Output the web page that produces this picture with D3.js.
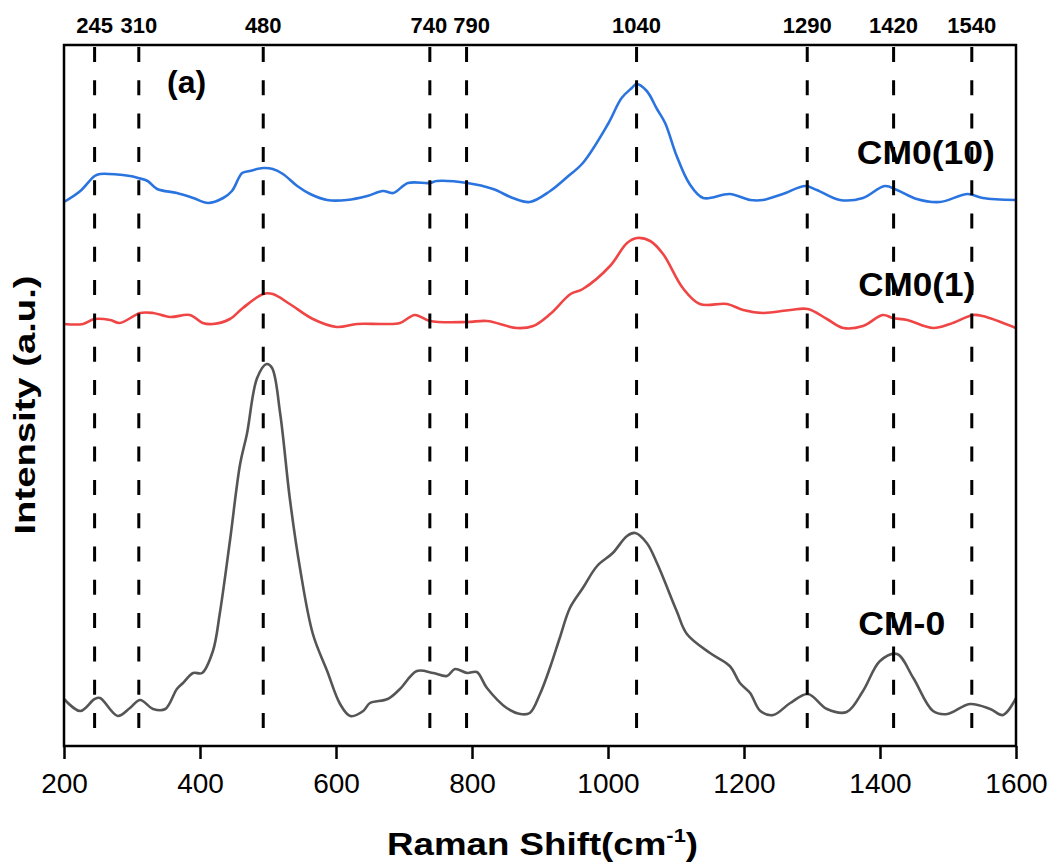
<!DOCTYPE html>
<html>
<head>
<meta charset="utf-8">
<script src="https://cdn.jsdelivr.net/npm/d3@7"></script>
<style>
  body { margin: 0; background: #fff; }
  text { font-family: "Liberation Sans", Arial, sans-serif; fill: #000; }
</style>
</head>
<body>
<div id="chart"></div>
<script>
const width = 1057;
const height = 866;
const margin = { top: 45, right: 41, bottom: 120, left: 64 };

// x tick values of the bottom axis
const xTicks = [200, 400, 600, 800, 1000, 1200, 1400, 1600];

// peak markers: where the dashed line sits, and what is written above it
const peakShift = [245, 310, 493, 738, 792, 1042, 1293, 1420, 1535];
const peakLabels = ["245", "310", "480", "740", "790", "1040", "1290", "1420", "1540"];

// CM0(10) spectrum (blue)
const cm10Shift = [200, 224, 245, 253, 297, 309, 323, 337, 366, 390, 412, 434, 447, 462, 473, 493, 507, 522, 543, 562, 587, 616, 646, 669, 684, 706, 738, 748, 793, 831, 860, 885, 915, 940, 963, 1000, 1020, 1035, 1042, 1057, 1072, 1084, 1101, 1120, 1140, 1179, 1209, 1228, 1257, 1290, 1307, 1341, 1375, 1407, 1425, 1454, 1488, 1529, 1551, 1600];
const cm10Int = [544, 555, 570, 572, 570, 568, 565, 557, 553, 548, 543, 548, 555, 573, 575, 578, 577, 572, 560, 552, 546, 546, 550, 555, 553, 563, 563, 565, 563, 557, 548, 544, 555, 569, 583, 622, 648, 658, 662, 655, 637, 623, 590, 562, 548, 552, 546, 546, 552, 560, 556, 546, 548, 560, 556, 547, 544, 552, 548, 546];

// CM0(1) spectrum (red)
const cm1Shift = [200, 228, 245, 268, 282, 312, 331, 356, 385, 404, 419, 444, 463, 493, 507, 532, 566, 601, 631, 669, 694, 716, 738, 793, 822, 866, 890, 915, 945, 963, 1003, 1028, 1043, 1062, 1081, 1110, 1135, 1175, 1199, 1228, 1268, 1294, 1322, 1346, 1375, 1404, 1419, 1440, 1478, 1503, 1537, 1551, 1600];
const cm1Int = [422, 422, 427, 426, 423, 433, 433, 429, 431, 423, 422, 427, 438, 452, 452, 442, 427, 419, 422, 422, 423, 431, 425, 424, 425, 418, 420, 432, 452, 457, 480, 503, 508, 505, 492, 458, 442, 442, 436, 433, 436, 437, 427, 418, 420, 431, 428, 426, 418, 422, 431, 430, 418];

// CM-0 spectrum (grey)
const cm0Shift = [200, 224, 245, 253, 279, 297, 312, 331, 349, 366, 375, 390, 403, 419, 429, 444, 459, 469, 484, 498, 506, 518, 532, 547, 566, 587, 606, 621, 640, 650, 676, 694, 719, 743, 763, 775, 793, 807, 822, 851, 871, 885, 900, 915, 929, 944, 963, 984, 1007, 1028, 1040, 1057, 1072, 1101, 1116, 1150, 1179, 1194, 1209, 1224, 1243, 1268, 1294, 1322, 1351, 1375, 1400, 1425, 1449, 1478, 1499, 1532, 1562, 1581, 1600];
const cm0Int = [47, 35, 47, 48, 30, 38, 46, 37, 37, 57, 63, 73, 73, 95, 132, 205, 282, 312, 368, 382, 378, 332, 248, 178, 112, 75, 42, 30, 35, 43, 47, 57, 75, 73, 70, 77, 73, 74, 58, 38, 32, 33, 52, 79, 108, 138, 158, 180, 193, 210, 213, 203, 183, 135, 112, 93, 80, 63, 53, 35, 31, 43, 52, 37, 34, 55, 85, 92, 68, 35, 32, 42, 37, 31, 48];

const series = [
  { name: "CM-0", shift: cm0Shift, value: cm0Int, color: "#555555", label: [1368, 635] },
  { name: "CM0(1)", shift: cm1Shift, value: cm1Int, color: "#f04545", label: [1368, 296] },
  { name: "CM0(10)", shift: cm10Shift, value: cm10Int, color: "#2a74df", label: [1366, 164] },
];
// label widths as they appear in the figure
const labelWidth = { "CM-0": 87, "CM0(1)": 117, "CM0(10)": 138 };

const svg = d3
  .select("#chart")
  .append("svg")
  .attr("width", width)
  .attr("height", height)
  .attr("viewBox", [0, 0, width, height]);

const innerW = width - margin.left - margin.right;
const innerH = height - margin.top - margin.bottom;

const x = d3.scaleLinear().domain([200, 1600]).range([margin.left, margin.left + innerW]);
const y = d3.scaleLinear().domain([0, 701]).range([margin.top + innerH, margin.top]);

// spectra
const line = d3
  .line()
  .x((d) => x(d[0]))
  .y((d) => y(d[1]))
  .curve(d3.curveCatmullRom.alpha(0.5));

series.forEach((s) => {
  svg
    .append("path")
    .datum(d3.zip(s.shift, s.value))
    .attr("fill", "none")
    .attr("stroke", s.color)
    .attr("stroke-width", 2.6)
    .attr("stroke-linejoin", "round")
    .attr("d", line);
});

// dashed peak markers
svg
  .selectAll(".peak")
  .data(peakShift)
  .enter()
  .append("line")
  .attr("x1", (d) => x(d))
  .attr("x2", (d) => x(d))
  .attr("y1", margin.top + 2)
  .attr("y2", margin.top + innerH)
  .attr("stroke", "#000")
  .attr("stroke-width", 3)
  .attr("stroke-dasharray", "15,18.3");

// 740 / 790 labels sit a little apart from their lines
svg
  .selectAll(".peakLabel")
  .data(peakShift)
  .enter()
  .append("text")
  .attr("x", (d, i) => x(d) + (peakLabels[i] === "790" ? 5 : peakLabels[i] === "740" ? -1 : 0))
  .attr("y", 33)
  .attr("text-anchor", "middle")
  .attr("font-size", 22)
  .attr("font-weight", "bold")
  .text((d, i) => peakLabels[i]);

// bottom axis
const xAxis = svg
  .append("g")
  .attr("transform", "translate(0," + (margin.top + innerH) + ")")
  .call(
    d3.axisBottom(x).tickValues(xTicks).tickFormat(d3.format("d")).tickSize(13).tickSizeOuter(0)
  );
xAxis.select(".domain").remove();
xAxis.selectAll(".tick line").attr("stroke", "#000").attr("stroke-width", 2.5);
xAxis
  .selectAll(".tick text")
  .attr("y", 47)
  .attr("dy", null)
  .attr("font-size", 28)
  .attr("fill", "#000");

// frame
svg
  .append("rect")
  .attr("x", margin.left)
  .attr("y", margin.top)
  .attr("width", innerW)
  .attr("height", innerH)
  .attr("fill", "none")
  .attr("stroke", "#000")
  .attr("stroke-width", 2.5);

// series names
series.forEach((s) => {
  svg
    .append("text")
    .attr("x", x(s.label[0]))
    .attr("y", s.label[1])
    .attr("font-size", 33)
    .attr("font-weight", "bold")
    .attr("textLength", labelWidth[s.name])
    .attr("lengthAdjust", "spacingAndGlyphs")
    .text(s.name);
});

// panel letter
svg
  .append("text")
  .attr("x", 167)
  .attr("y", 93)
  .attr("font-size", 32)
  .attr("font-weight", "bold")
  .text("(a)");

// axis titles
const xt = svg
  .append("text")
  .attr("x", 387)
  .attr("y", 855)
  .attr("font-size", 32)
  .attr("font-weight", "bold")
  .attr("textLength", 311)
  .attr("lengthAdjust", "spacingAndGlyphs");
xt.append("tspan").text("Raman Shift(cm");
xt.append("tspan").attr("dy", -13).attr("font-size", 19).text("-1");
xt.append("tspan").attr("dy", 13).text(")");

svg
  .append("text")
  .attr("transform", "translate(35,405) rotate(-90)")
  .attr("text-anchor", "middle")
  .attr("font-size", 30)
  .attr("font-weight", "bold")
  .attr("textLength", 259)
  .attr("lengthAdjust", "spacingAndGlyphs")
  .text("Intensity (a.u.)");
</script>
</body>
</html>
